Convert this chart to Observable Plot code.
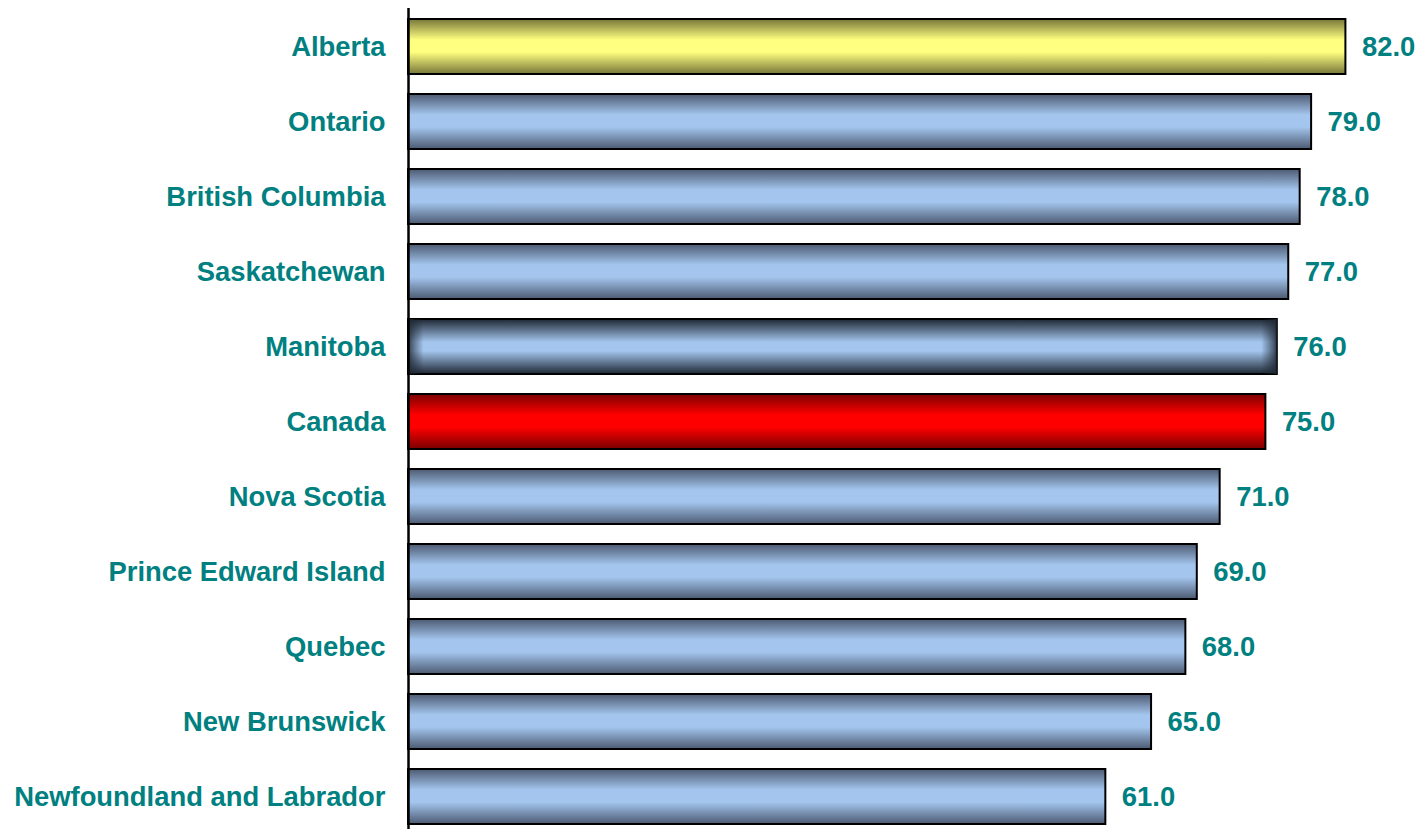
<!DOCTYPE html>
<html>
<head>
<meta charset="utf-8">
<script src="https://cdn.jsdelivr.net/npm/d3@7"></script>
<script src="https://cdn.jsdelivr.net/npm/@observablehq/plot@0.6"></script>
<style>
  html, body { margin: 0; padding: 0; background: #fff; }
  #chart svg { display: block; }
</style>
</head>
<body>
<div id="chart"></div>
<script>
const provinces = ["Alberta", "Ontario", "British Columbia", "Saskatchewan", "Manitoba", "Canada",
  "Nova Scotia", "Prince Edward Island", "Quebec", "New Brunswick", "Newfoundland and Labrador"];
const values = [82.0, 79.0, 78.0, 77.0, 76.0, 75.0, 71.0, 69.0, 68.0, 65.0, 61.0];
const styles = ["yellow", "blue", "blue", "blue", "blueEdge", "red", "blue", "blue", "blue", "blue", "blue"];

const data = provinces.map((name, i) => ({name, value: values[i], style: styles[i]}));
const gradFor = {yellow: "url(#gYellow)", blue: "url(#gBlue)", blueEdge: "url(#gBlueDark)", red: "url(#gRed)"};

const teal = "#008080";
const font = "'Liberation Sans', Arial, Helvetica, sans-serif";

const barMarks = Object.keys(gradFor).map(s =>
  Plot.barX(data.filter(d => d.style === s), {
    y: "name", x1: 0, x2: "value",
    fill: gradFor[s], stroke: "#000", strokeWidth: 2
  })
);

const chart = Plot.plot({
  width: 1422,
  height: 829,
  marginLeft: 408,
  marginRight: 8,
  marginTop: 8,
  marginBottom: 0,
  style: {fontFamily: font, background: "#fff", overflow: "visible"},
  x: {domain: [0, 88], axis: null},
  y: {domain: provinces, range: [8.5, 834.5], paddingInner: 0.27, paddingOuter: 0.135, axis: null},
  marks: [
    ...barMarks,
    Plot.barX(data.filter(d => d.style === "blueEdge"), {
      y: "name", x1: 0, x2: "value", fill: "url(#gEdgeH)"
    }),
    Plot.ruleX([0], {stroke: "#000", strokeWidth: 2.5}),
    Plot.text(data, {
      y: "name", x: 0, text: "name", textAnchor: "end", dx: -23,
      fill: teal, fontSize: 27.4, fontWeight: "bold"
    }),
    Plot.text(data, {
      y: "name", x: "value", text: d => d.value.toFixed(1), textAnchor: "start", dx: 16,
      fill: teal, fontSize: 27.4, fontWeight: "bold"
    })
  ]
});

// gradient definitions
const svg = d3.select(chart);
const defs = svg.insert("defs", ":first-child");
function vgrad(id, edge, mid, e2 = 0.38, e3 = 0.6) {
  const g = defs.append("linearGradient").attr("id", id)
    .attr("x1", 0).attr("y1", 0).attr("x2", 0).attr("y2", 1);
  g.append("stop").attr("offset", 0).attr("stop-color", edge);
  g.append("stop").attr("offset", e2).attr("stop-color", mid);
  g.append("stop").attr("offset", e3).attr("stop-color", mid);
  g.append("stop").attr("offset", 1).attr("stop-color", edge);
}
vgrad("gBlue", "#4c5a72", "#a4c6ee");
vgrad("gBlueDark", "#1e2733", "#a4c6ee", 0.42, 0.58);
vgrad("gYellow", "#77773a", "#ffff80");
vgrad("gRed", "#7a0000", "#ff0000");
const h = defs.append("linearGradient").attr("id", "gEdgeH")
  .attr("x1", 0).attr("y1", 0).attr("x2", 1).attr("y2", 0);
[[0, 0.85], [0.008, 0.45], [0.018, 0], [0.982, 0], [0.992, 0.45], [1, 0.85]].forEach(([o, a]) =>
  h.append("stop").attr("offset", o).attr("stop-color", "#1e2733").attr("stop-opacity", a));

document.getElementById("chart").appendChild(chart);
</script>
</body>
</html>
